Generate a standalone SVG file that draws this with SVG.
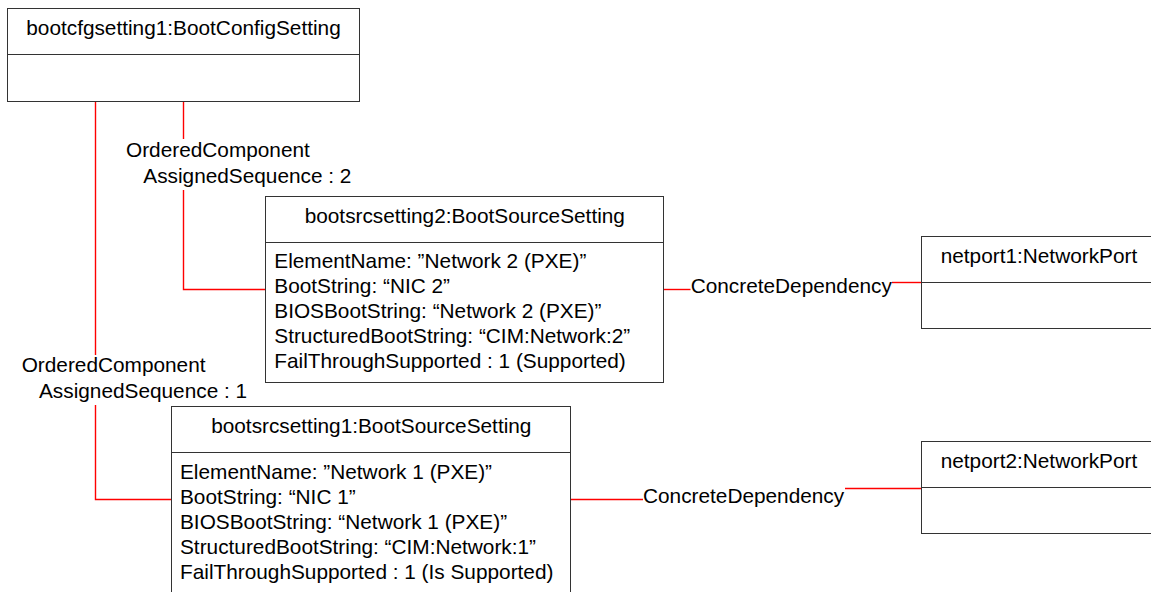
<svg xmlns="http://www.w3.org/2000/svg" width="1151" height="592" viewBox="0 0 1151 592">
<style>
  .box { fill: #ffffff; stroke: #333333; stroke-width: 1; }
  .div { stroke: #333333; stroke-width: 1; }
  .conn { fill: none; stroke: #ff0000; stroke-width: 1.4; }
  text { font-family: "Liberation Sans", Arial, sans-serif; font-size: 20.8px; fill: #000000; }
  .mid { text-anchor: middle; }
</style>
<rect width="1151" height="592" fill="#ffffff"/>
<g id="connectors">
  <polyline class="conn" points="183.5,101.5 183.5,139"/>
  <polyline class="conn" points="183.5,190 183.5,289.5 265.5,289.5"/>
  <polyline class="conn" points="95.5,101.5 95.5,355"/>
  <polyline class="conn" points="95.5,405 95.5,499.5 171.5,499.5"/>
  <polyline class="conn" points="664,289.5 690.5,289.5"/>
  <polyline class="conn" points="892,282.5 921.5,282.5"/>
  <polyline class="conn" points="570.5,499.5 643,499.5"/>
  <polyline class="conn" points="845,488.5 921.5,488.5"/>
  <text x="126" y="157">OrderedComponent</text>
  <text x="143.3" y="182.7">AssignedSequence : 2</text>
  <text x="21.7" y="372.3">OrderedComponent</text>
  <text x="39" y="398">AssignedSequence : 1</text>
  <text x="690.7" y="293.3">ConcreteDependency</text>
  <text x="643" y="503">ConcreteDependency</text>
</g>
<g id="bootcfgsetting1">
  <rect class="box" x="7.5" y="8.5" width="352" height="93"/>
  <line class="div" x1="7.5" y1="54.5" x2="359.5" y2="54.5"/>
  <text class="mid" x="183.5" y="35">bootcfgsetting1:BootConfigSetting</text>
</g>
<g id="bootsrcsetting2">
  <rect class="box" x="265.5" y="196.5" width="398" height="186"/>
  <line class="div" x1="265.5" y1="242.5" x2="663.5" y2="242.5"/>
  <text class="mid" x="464.8" y="223.3">bootsrcsetting2:BootSourceSetting</text>
  <text x="274.3" y="268.3">ElementName: ”Network 2 (PXE)”</text>
  <text x="274.3" y="293.3">BootString: “NIC 2”</text>
  <text x="274.3" y="318.3">BIOSBootString: “Network 2 (PXE)”</text>
  <text x="274.3" y="343.3">StructuredBootString: “CIM:Network:2”</text>
  <text x="274.3" y="368.3">FailThroughSupported : 1 (Supported)</text>
</g>
<g id="bootsrcsetting1">
  <rect class="box" x="171.5" y="406.5" width="399" height="200"/>
  <line class="div" x1="171.5" y1="452.5" x2="570.5" y2="452.5"/>
  <text class="mid" x="371.3" y="432.7">bootsrcsetting1:BootSourceSetting</text>
  <text x="180" y="479.3">ElementName: ”Network 1 (PXE)”</text>
  <text x="180" y="504.3">BootString: “NIC 1”</text>
  <text x="180" y="529.3">BIOSBootString: “Network 1 (PXE)”</text>
  <text x="180" y="554.3">StructuredBootString: “CIM:Network:1”</text>
  <text x="180" y="579.3">FailThroughSupported : 1 (Is Supported)</text>
</g>
<g id="netport1">
  <rect class="box" x="921.5" y="236.5" width="240" height="92"/>
  <line class="div" x1="921.5" y1="282.5" x2="1161.5" y2="282.5"/>
  <text x="940.7" y="262.7">netport1:NetworkPort</text>
</g>
<g id="netport2">
  <rect class="box" x="921.5" y="441.5" width="240" height="92"/>
  <line class="div" x1="921.5" y1="487.5" x2="1161.5" y2="487.5"/>
  <text x="940.7" y="468">netport2:NetworkPort</text>
</g>
</svg>
